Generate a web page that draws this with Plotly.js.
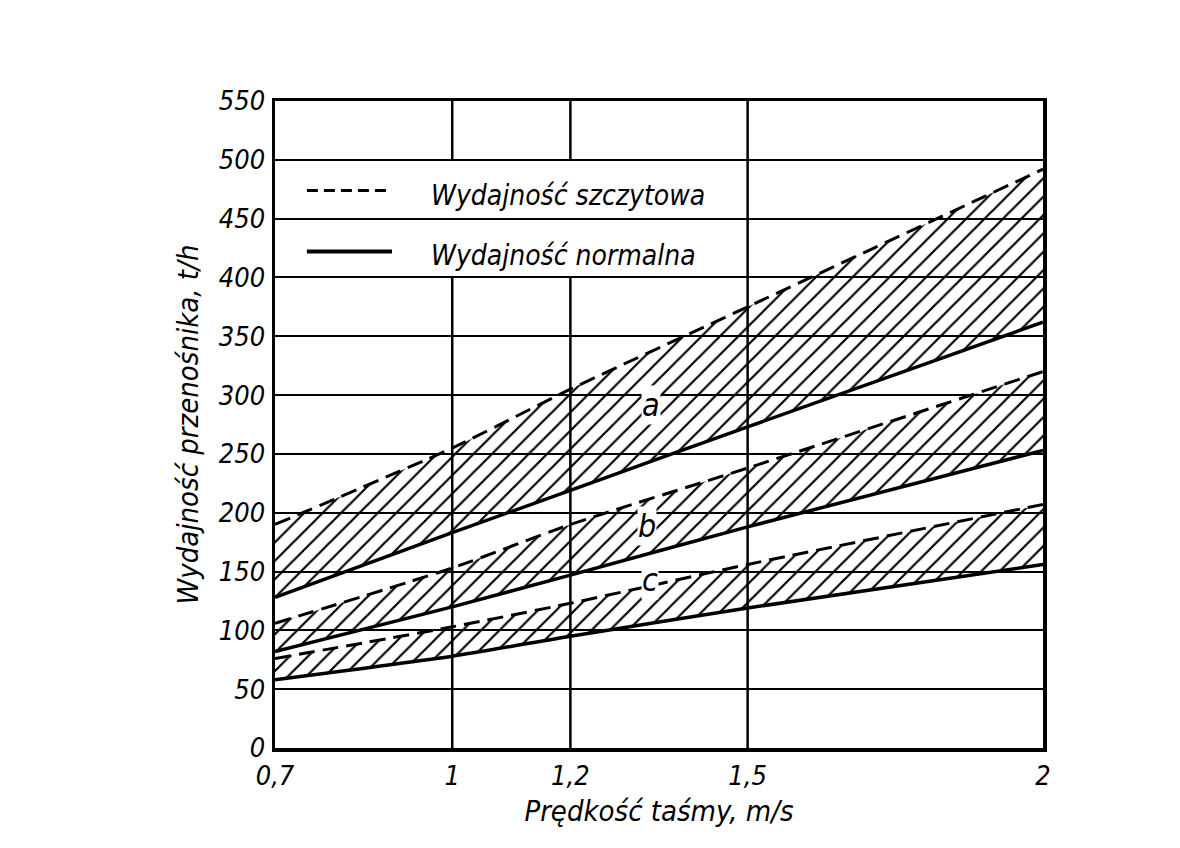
<!DOCTYPE html>
<html>
<head>
<meta charset="utf-8">
<script src="https://cdn.plot.ly/plotly-3.0.1.min.js"></script>
<style>
  html, body { margin: 0; padding: 0; background: #fff; }
  #chart { width: 1180px; height: 848px; }
</style>
</head>
<body>
<div id="chart"></div>
<script>
// dane
const speed = [0.7, 1, 1.2, 1.5, 2];
const aPeak = [190, 255, 305, 375, 492];
const aNormal = [128, 183, 219, 273, 362];
const bPeak = [106, 153, 190, 238, 320];
const bNormal = [82, 120, 147, 188, 253];
const cPeak = [76, 103, 123, 156, 207];
const cNormal = [58, 78, 95, 119, 156];

const bandNames = ['a', 'b', 'c'];
const xTickVals = [0.7, 1, 1.2, 1.5, 2];
const xTickText = ['0,7', '1', '1,2', '1,5', '2'];
const legendLabels = ['Wydajność szczytowa', 'Wydajność normalna'];

const FONT = 'DejaVu Sans Condensed, DejaVu Sans, sans-serif';

function bandTraces(lower, upper) {
    return [
        {
            x: speed, y: lower, type: 'scatter', mode: 'lines',
            line: { color: 'black', width: 3.5, shape: 'spline', smoothing: 0.6 },
            hoverinfo: 'skip', showlegend: false
        },
        {
            x: speed, y: upper, type: 'scatter', mode: 'lines',
            line: { color: 'black', width: 3, dash: '16px,8px', shape: 'spline', smoothing: 0.6 },
            fill: 'tonexty',
            fillcolor: 'rgba(0,0,0,0)',
            fillpattern: { shape: '/', size: 13, solidity: 0.17, fgcolor: 'black', bgcolor: 'rgba(0,0,0,0)' },
            hoverinfo: 'skip', showlegend: false
        }
    ];
}

const data = [
    ...bandTraces(aNormal, aPeak),
    ...bandTraces(bNormal, bPeak),
    ...bandTraces(cNormal, cPeak)
];

// pionowe linie siatki, przerwane pod legendą
const shapes = [];
[1, 1.2, 1.5].forEach(function(xv) {
    if (xv < 1.45) {
        shapes.push({ type: 'line', xref: 'x', yref: 'y', x0: xv, x1: xv, y0: 0, y1: 400, line: { color: 'black', width: 2.5 }, layer: 'below' });
        shapes.push({ type: 'line', xref: 'x', yref: 'y', x0: xv, x1: xv, y0: 500, y1: 550, line: { color: 'black', width: 2.5 }, layer: 'below' });
    } else {
        shapes.push({ type: 'line', xref: 'x', yref: 'y', x0: xv, x1: xv, y0: 0, y1: 550, line: { color: 'black', width: 2.5 }, layer: 'below' });
    }
});

// próbki linii w legendzie
shapes.push({ type: 'line', xref: 'x', yref: 'y', x0: 0.754, x1: 0.898, y0: 474, y1: 474, line: { color: 'black', width: 3, dash: '11px,6px' } });
shapes.push({ type: 'line', xref: 'x', yref: 'y', x0: 0.754, x1: 0.898, y0: 422, y1: 422, line: { color: 'black', width: 4 } });

const annotations = [
    { x: 0.962, y: 470, text: legendLabels[0] },
    { x: 0.962, y: 419, text: legendLabels[1] },
    { x: 1.337, y: 292, text: bandNames[0] },
    { x: 1.329, y: 189, text: bandNames[1] },
    { x: 1.334, y: 143, text: bandNames[2] }
].map(function(a, i) {
    return {
        x: a.x, y: a.y, xref: 'x', yref: 'y', text: a.text, showarrow: false,
        xanchor: i < 2 ? 'left' : 'center', yanchor: 'middle',
        bgcolor: i < 2 ? 'rgba(0,0,0,0)' : 'white',
        borderpad: 0,
        font: { family: FONT, size: i < 2 ? 28 : 32, color: 'black', style: 'italic' }
    };
});

const layout = {
    width: 1180,
    height: 848,
    paper_bgcolor: 'white',
    plot_bgcolor: 'white',
    margin: { l: 275, r: 137, t: 101, b: 100 },
    showlegend: false,
    font: { family: FONT, color: 'black', size: 27, style: 'italic' },
    xaxis: {
        range: [0.7, 2],
        tickvals: xTickVals,
        ticktext: xTickText,
        showgrid: false,
        zeroline: false,
        showline: true,
        mirror: true,
        linecolor: 'black',
        linewidth: 3.5,
        ticks: '',
        ticklabelstandoff: 1,
        tickfont: { family: FONT, size: 27, style: 'italic', color: 'black' },
        title: { text: 'Prędkość taśmy, m/s', standoff: 12, font: { family: FONT, size: 29, style: 'italic', color: 'black' } }
    },
    yaxis: {
        range: [0, 550],
        dtick: 50,
        showgrid: true,
        gridcolor: 'black',
        gridwidth: 2,
        zeroline: false,
        showline: true,
        mirror: true,
        linecolor: 'black',
        linewidth: 3.5,
        ticks: '',
        ticklabelstandoff: 1,
        tickfont: { family: FONT, size: 27, style: 'italic', color: 'black' },
        title: { text: 'Wydajność przenośnika, t/h', standoff: 12, font: { family: FONT, size: 29, style: 'italic', color: 'black' } }
    },
    shapes: shapes,
    annotations: annotations
};

Plotly.newPlot('chart', data, layout, { displayModeBar: false, staticPlot: true });
</script>
</body>
</html>
